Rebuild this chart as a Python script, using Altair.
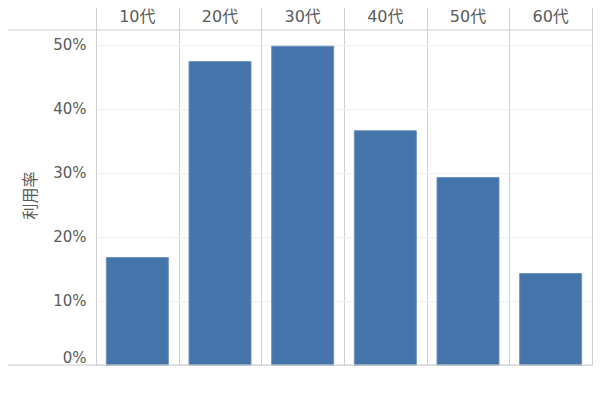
import altair as alt
import pandas as pd

categories = ["10代", "20代", "30代", "40代", "50代", "60代"]
rates = [0.168, 0.474, 0.498, 0.366, 0.293, 0.143]
y_ticks = [0.0, 0.1, 0.2, 0.3, 0.4, 0.5]

df = pd.DataFrame({"age": categories, "rate": rates})

FONT = "DejaVu Sans, Noto Sans CJK JP"
TXT = "#5a5a5a"
LINE = "#d0d0d0"

xscale = alt.Scale(domain=categories, paddingInner=0, paddingOuter=0)

base = alt.Chart(df)

bars = base.mark_bar(
    width={"band": 0.75}, color="#4474a9", stroke="#6f93c2", strokeWidth=1
).encode(
    x=alt.X(
        "age:N",
        scale=xscale,
        sort=categories,
        title=None,
        axis=alt.Axis(
            orient="top",
            tickBand="extent",
            grid=True,
            gridColor=LINE,
            ticks=True,
            tickSize=28,
            tickColor=LINE,
            labels=False,
            domain=False,
        ),
    ),
    y=alt.Y(
        "rate:Q",
        scale=alt.Scale(domain=[0, 0.5234], nice=False),
        title="利用率",
        axis=alt.Axis(
            values=y_ticks,
            format=".0%",
            grid=True,
            gridColor="#efefef",
            ticks=False,
            domain=False,
            labelFlush=True,
            labelPadding=10,
            labelFont=FONT,
            labelFontSize=15,
            labelColor=TXT,
            titleFont=FONT,
            titleFontSize=16,
            titleFontWeight="normal",
            titleColor=TXT,
            titleX=-58,
            titleY=165,
        ),
    ),
)

headers = base.mark_text(
    font=FONT, fontSize=16, color=TXT, baseline="middle"
).encode(
    x=alt.X("age:N", scale=xscale, sort=categories),
    y=alt.value(-13),
    text="age:N",
)

line_df = alt.Data(values=[{"k": 1}])
top_line = alt.Chart(line_df).mark_rule(color=LINE, strokeWidth=1).encode(
    x=alt.value(-88), x2=alt.value(496), y=alt.value(0)
)
bottom_line = alt.Chart(line_df).mark_rule(color="#c8c8c8", strokeWidth=1).encode(
    x=alt.value(-88), x2=alt.value(496), y=alt.value(335)
)

chart = (
    alt.layer(bars, headers, top_line, bottom_line)
    .properties(
        width=496,
        height=335,
        autosize=alt.AutoSizeParams(type="none"),
        padding={"left": 88, "top": 22, "right": 6, "bottom": 31},
    )
    .configure_view(stroke=None)
)

chart.save("out.html", embed_options={"renderer": "svg", "actions": False})
